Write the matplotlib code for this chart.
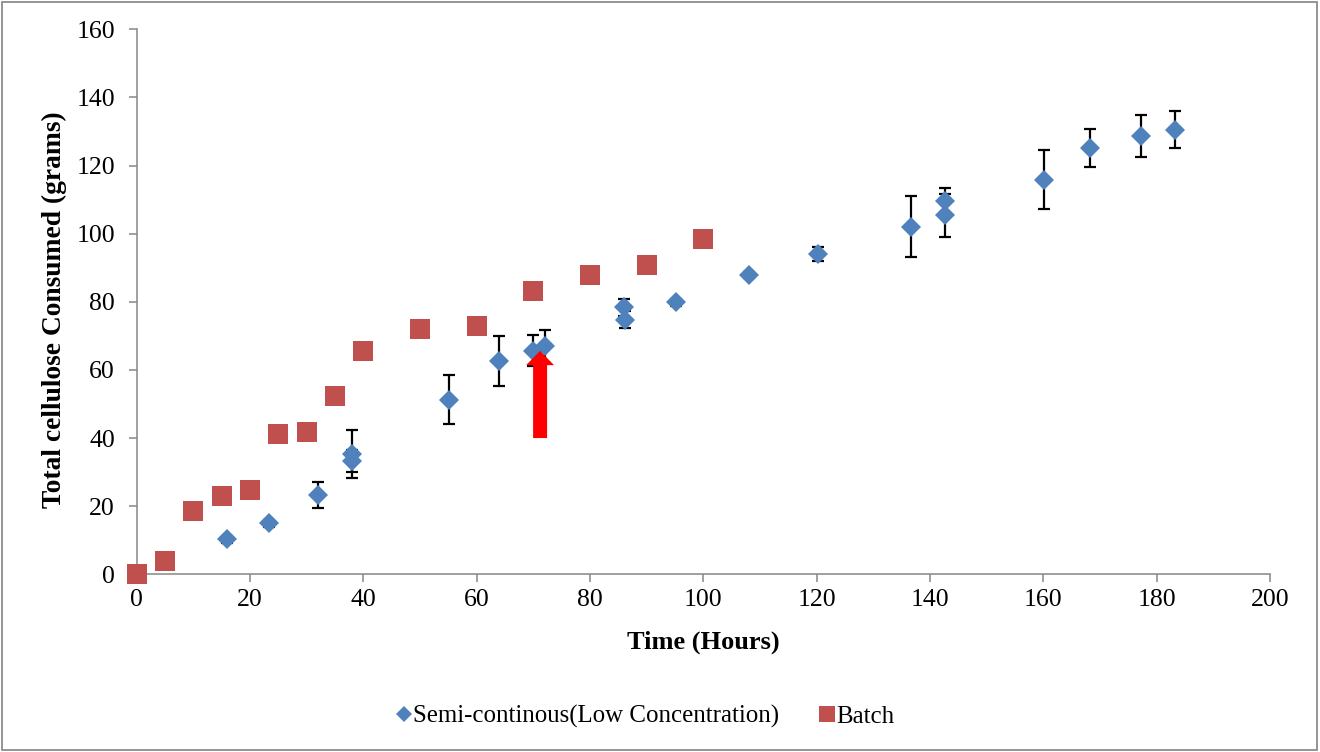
import matplotlib
matplotlib.use("Agg")
import matplotlib.pyplot as plt
from matplotlib.lines import Line2D
from matplotlib.patches import Rectangle

plt.rcParams['font.family'] = ['Liberation Serif', 'DejaVu Serif']

# Semi-continuous feeding (low concentration)
semi_time = [16.0, 23.4, 32.0, 38.0, 38.0, 55.1, 64.0, 69.9, 72.0,
             86.0, 86.1, 95.1, 108.1, 120.2, 136.6, 142.7, 142.7,
             160.2, 168.2, 177.2, 183.2]
semi_cellulose = [10.3, 15.0, 23.4, 35.4, 33.3, 51.2, 62.6, 65.7, 66.9,
                  78.4, 74.7, 79.8, 87.9, 94.1, 102.1, 109.7, 105.4,
                  115.9, 125.1, 128.6, 130.5]
semi_err = [1.0, 1.0, 3.8, 7.0, 3.2, 7.2, 7.3, 4.6, 4.9,
            2.5, 2.5, 1.0, 1.0, 2.0, 9.0, 3.6, 6.3,
            8.6, 5.6, 6.2, 5.4]

# Batch run
batch_time = [0, 5, 10, 15, 20, 25, 30, 35, 40, 50, 60, 70, 80, 90, 100]
batch_cellulose = [0.0, 3.8, 18.5, 23.0, 24.7, 41.2, 41.8, 52.4, 65.6,
                   72.0, 73.0, 83.2, 88.0, 90.9, 98.5]

# Time at which the feed was switched (arrow)
switch_time = 71.2
switch_from = 40.0
switch_to = 65.6

x_ticks = [0, 20, 40, 60, 80, 100, 120, 140, 160, 180, 200]
y_ticks = [0, 20, 40, 60, 80, 100, 120, 140, 160]

blue = '#4F81BD'
red = '#C0504D'
grey = '#868686'

fig = plt.figure(figsize=(13.2, 7.52), dpi=100)
ax = fig.add_axes([0.1035, 0.2363, 0.8586, 0.7247])

ax.errorbar(semi_time, semi_cellulose, yerr=semi_err, fmt='none',
            ecolor='black', elinewidth=1.6, capsize=4.3, capthick=1.6,
            zorder=2, clip_on=False)
ax.plot(semi_time, semi_cellulose, linestyle='none', marker='D',
        markersize=10, color=blue, markeredgewidth=0, zorder=3,
        clip_on=False)
ax.plot(batch_time, batch_cellulose, linestyle='none', marker='s',
        markersize=14.4, color=red, markeredgewidth=0, zorder=3,
        clip_on=False)

ax.arrow(switch_time, switch_from, 0, switch_to - switch_from,
         width=2.47, head_width=4.94, head_length=4.2,
         length_includes_head=True, color='#FF0000', lw=0, zorder=4)

ax.set_xlim(0, 200)
ax.set_ylim(0, 160)
ax.set_xticks(x_ticks)
ax.set_yticks(y_ticks)
ax.tick_params(axis='both', direction='out', length=5.6, width=1.1,
               color=grey, labelsize=18.5, labelcolor='black')
ax.tick_params(axis='x', pad=5.0)
ax.tick_params(axis='y', pad=10.0)

for side in ('top', 'right'):
    ax.spines[side].set_visible(False)
for side in ('left', 'bottom'):
    ax.spines[side].set_color(grey)
    ax.spines[side].set_linewidth(1.1)

ax.set_xlabel('Time (Hours)', fontsize=19, fontweight='bold', labelpad=14)
ax.set_ylabel('Total cellulose Consumed (grams)', fontsize=19.8,
              fontweight='bold', labelpad=7)
ax.yaxis.label.set_y(0.485)

handles = [
    Line2D([], [], linestyle='none', marker='D', markersize=8,
           color=blue, markeredgewidth=0),
    Line2D([], [], linestyle='none', marker='s', markersize=12,
           color=red, markeredgewidth=0),
]
fig.legend(handles, ['Semi-continous(Low Concentration)', 'Batch'],
           loc='center', bbox_to_anchor=(0.489, 0.047), ncol=2,
           frameon=False, fontsize=17.9, handlelength=0.6,
           handletextpad=0.1, columnspacing=1.6)

fig.patches.append(Rectangle((0.0015, 0.002), 0.996, 0.996,
                             transform=fig.transFigure, fill=False,
                             edgecolor='#8C8C8C', linewidth=1.3))

fig.savefig('out.png', dpi=100)
